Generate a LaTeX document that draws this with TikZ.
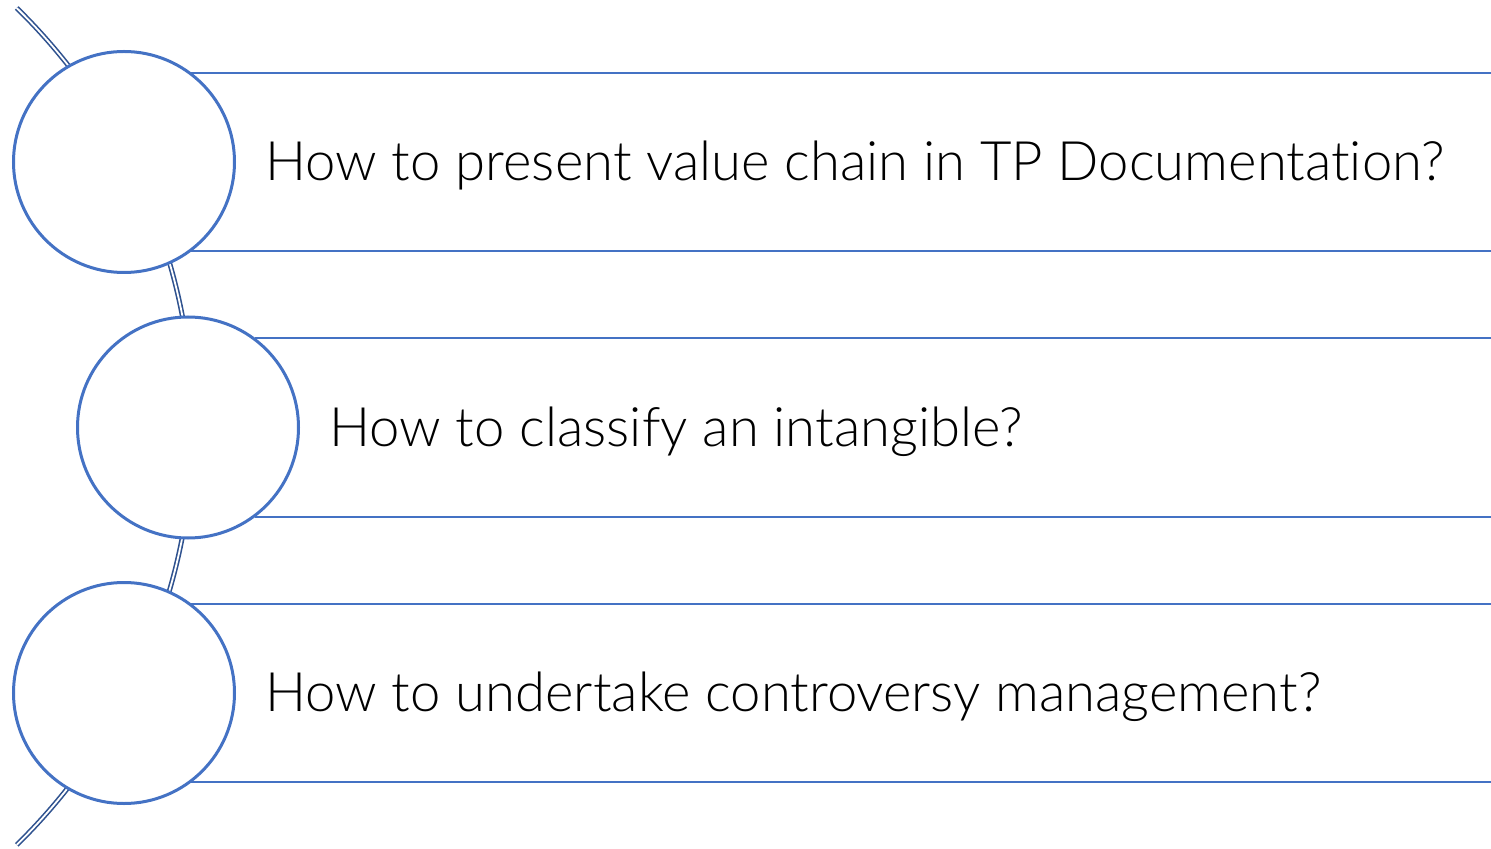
\documentclass[tikz,border=0pt]{standalone}
\usepackage{fontspec}
\setmainfont{Lato}[UprightFont=* Light,Ligatures=NoCommon]
\definecolor{ringblue}{HTML}{4472C4}
\definecolor{spineblue}{HTML}{2F528F}
\tikzset{
    ring/.style={circle,draw=ringblue,line width=1.5pt,fill=white,minimum size=110.5pt,inner sep=0pt},
    band/.style={draw=ringblue,line width=1pt},
    spine/.style={draw=spineblue,double=white,line width=0.8pt,double distance=0.9pt},
    question/.style={anchor=base west,inner sep=0pt,font=\fontsize{27.2}{32}\selectfont}
}

\begin{document}
\begin{tikzpicture}[x=0.5pt,y=-0.5pt]
                      \useasboundingbox (0,0) rectangle (1491,849);
                      \coordinate (edge) at (1491,0);
                      \draw[spine] (16.7,8) arc[start angle=-45.67,end angle=45.67,radius=585];

                      \node[ring] (c1) at (124,162) {};
                      \node[ring] (c2) at (188,427.5) {};
                      \node[ring] (c3) at (124,693) {};

                      \draw[band] (c1.53) -- (c1.53 -| edge);
                      \draw[band] (c1.-53) -- (c1.-53 -| edge);
                      \draw[band] (c2.53) -- (c2.53 -| edge);
                      \draw[band] (c2.-53) -- (c2.-53 -| edge);
                      \draw[band] (c3.53) -- (c3.53 -| edge);
                      \draw[band] (c3.-53) -- (c3.-53 -| edge);

                      \node[question] (q1) at (265,180.5) {How to present value chain in TP Documentation?};
                      \node[question] (q2) at (329,446) {How to classify an intangible?};
                      \node[question] (q3) at (265,711.5) {How to undertake controversy management?};
                  \end{tikzpicture}
\end{document}
